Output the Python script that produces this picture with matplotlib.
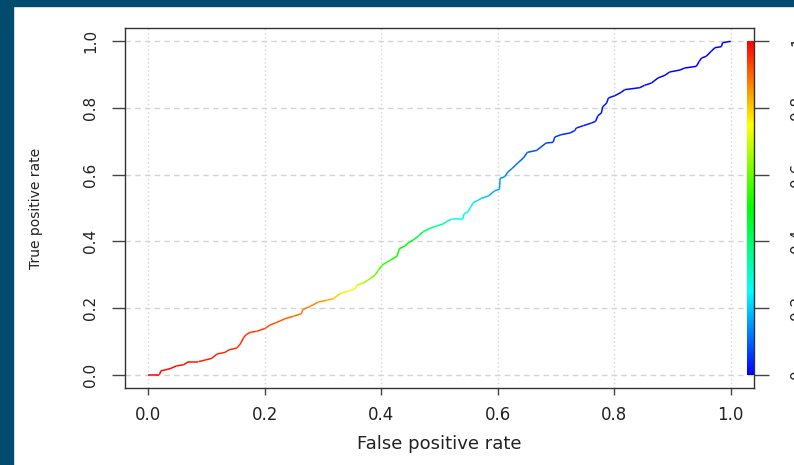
import numpy as np
import matplotlib
matplotlib.use('Agg')
import matplotlib.pyplot as plt
from matplotlib.collections import LineCollection
from matplotlib.colors import ListedColormap, hsv_to_rgb
from matplotlib.patches import Rectangle

# ROC curve vertices
fpr = [0.000, 0.019, 0.022, 0.029, 0.039, 0.048, 0.061, 0.069, 0.086, 0.098,
       0.109, 0.118, 0.132, 0.138, 0.152, 0.158, 0.164, 0.168, 0.175, 0.186,
       0.201, 0.209, 0.218, 0.226, 0.235, 0.249, 0.263, 0.265, 0.278, 0.292,
       0.306, 0.318, 0.329, 0.344, 0.355, 0.358, 0.369, 0.381, 0.389, 0.395,
       0.401, 0.415, 0.427, 0.431, 0.441, 0.446, 0.455, 0.464, 0.472, 0.484,
       0.495, 0.506, 0.512, 0.521, 0.540, 0.542, 0.549, 0.558, 0.567, 0.572,
       0.584, 0.595, 0.603, 0.604, 0.612, 0.618, 0.625, 0.635, 0.644, 0.651,
       0.667, 0.683, 0.695, 0.698, 0.709, 0.724, 0.732, 0.735, 0.747, 0.761,
       0.768, 0.772, 0.778, 0.780, 0.787, 0.790, 0.801, 0.812, 0.818, 0.844,
       0.852, 0.864, 0.875, 0.887, 0.895, 0.913, 0.921, 0.941, 0.946, 0.950,
       0.958, 0.967, 0.973, 0.984, 0.986, 1.000]
tpr = [0.000, 0.000, 0.012, 0.014, 0.019, 0.026, 0.030, 0.039, 0.039, 0.044,
       0.049, 0.062, 0.067, 0.074, 0.080, 0.092, 0.112, 0.120, 0.127, 0.130,
       0.139, 0.149, 0.155, 0.161, 0.168, 0.175, 0.183, 0.195, 0.205, 0.218,
       0.223, 0.228, 0.243, 0.251, 0.258, 0.268, 0.275, 0.288, 0.298, 0.313,
       0.328, 0.343, 0.355, 0.378, 0.386, 0.395, 0.404, 0.416, 0.429, 0.439,
       0.446, 0.452, 0.459, 0.467, 0.467, 0.482, 0.489, 0.516, 0.524, 0.529,
       0.536, 0.552, 0.556, 0.589, 0.594, 0.609, 0.619, 0.636, 0.650, 0.667,
       0.673, 0.695, 0.697, 0.713, 0.720, 0.725, 0.732, 0.740, 0.747, 0.755,
       0.760, 0.777, 0.785, 0.803, 0.815, 0.830, 0.837, 0.847, 0.855, 0.861,
       0.868, 0.875, 0.890, 0.898, 0.908, 0.914, 0.920, 0.925, 0.940, 0.950,
       0.955, 0.971, 0.981, 0.984, 0.996, 1.000]
cutoff = [1.00, 1.00, 0.99, 0.99, 0.99, 0.98, 0.98, 0.98, 0.97, 0.97,
          0.97, 0.96, 0.96, 0.96, 0.95, 0.95, 0.95, 0.95, 0.94, 0.94,
          0.93, 0.92, 0.92, 0.91, 0.90, 0.89, 0.88, 0.88, 0.87, 0.86,
          0.84, 0.81, 0.78, 0.75, 0.72, 0.71, 0.68, 0.64, 0.60, 0.58,
          0.56, 0.54, 0.52, 0.51, 0.49, 0.48, 0.46, 0.44, 0.42, 0.39,
          0.36, 0.33, 0.31, 0.29, 0.26, 0.26, 0.25, 0.23, 0.21, 0.20,
          0.18, 0.17, 0.16, 0.15, 0.14, 0.13, 0.12, 0.11, 0.10, 0.09,
          0.08, 0.07, 0.06, 0.06, 0.05, 0.04, 0.04, 0.04, 0.03, 0.03,
          0.02, 0.02, 0.02, 0.02, 0.02, 0.02, 0.02, 0.01, 0.01, 0.01,
          0.01, 0.01, 0.01, 0.01, 0.01, 0.01, 0.00, 0.00, 0.00, 0.00,
          0.00, 0.00, 0.00, 0.00, 0.00, 0.00]

ticks = [0.0, 0.2, 0.4, 0.6, 0.8, 1.0]
tick_labels = ['0.0', '0.2', '0.4', '0.6', '0.8', '1.0']
cbar_labels = ['0', '0.2', '0.4', '0.6', '0.8', '1']

# R rainbow(start=0, end=4/6): blue (low cutoff) -> red (high cutoff)
hues = np.linspace(4 / 6, 0, 256)
rainbow = ListedColormap(hsv_to_rgb(np.column_stack([hues, np.ones(256), np.ones(256)])))

fig = plt.figure(figsize=(7.94, 4.65), dpi=100)
fig.patch.set_facecolor('white')
# dark frame strips from the page around the image
fig.patches.append(Rectangle((0, 0), 12.5 / 794, 1, transform=fig.transFigure,
                             color='#004b6e', zorder=-1))
fig.patches.append(Rectangle((0, 1 - 6 / 465), 1, 6 / 465, transform=fig.transFigure,
                             color='#004b6e', zorder=-1))

ax = fig.add_axes([125 / 794, 1 - 388 / 465, 629 / 794, 360 / 465])
ax.set_xlim(-0.04, 1.04)
ax.set_ylim(-0.04, 1.04)

for t in ticks:
    ax.axvline(t, color='#d4d4d4', lw=1, ls=(0, (1, 2)), zorder=0)
    ax.axhline(t, color='#d4d4d4', lw=1, ls=(0, (4, 3)), zorder=0)

pts = np.column_stack([fpr, tpr])
segs = np.stack([pts[:-1], pts[1:]], axis=1)
cut = np.array(cutoff)
lc = LineCollection(segs, cmap=rainbow, linewidths=1.1, zorder=3)
lc.set_array((cut[:-1] + cut[1:]) / 2)
lc.set_clim(0, 1)
ax.add_collection(lc)

# colour key inside the right edge of the box
ax.imshow(np.linspace(0, 1, 256).reshape(-1, 1), cmap=rainbow, origin='lower',
          aspect='auto', extent=[1.028, 1.039, 0, 1], zorder=2)

for s in ax.spines.values():
    s.set_color('#333333')
    s.set_linewidth(1)

ax.set_xticks(ticks)
ax.set_xticklabels(tick_labels)
ax.set_yticks(ticks)
ax.set_yticklabels(tick_labels)
ax.tick_params(axis='x', length=5, width=1, color='#444444', pad=8,
               labelsize=12, labelcolor='#222222')
ax.tick_params(axis='y', length=9.4, width=1, color='#444444', pad=10,
               labelsize=11, labelcolor='#222222', labelrotation=90)
plt.setp(ax.get_yticklabels(), va='center')

sec = ax.secondary_yaxis('right')
sec.set_yticks(ticks)
sec.set_yticklabels(cbar_labels)
sec.spines['right'].set_visible(False)
sec.tick_params(length=10.8, width=1, color='#444444', pad=15,
                labelsize=11, labelcolor='#222222', labelrotation=90)
plt.setp(sec.get_yticklabels(), va='center')

ax.set_xlabel('False positive rate', fontsize=13, color='#222222', va='center')
ax.xaxis.set_label_coords(0.5, -0.156)
ax.set_ylabel('True positive rate', fontsize=10, color='#222222', va='center')
ax.yaxis.set_label_coords(-0.1415, 0.5)

fig.savefig('out.png', dpi=100)
